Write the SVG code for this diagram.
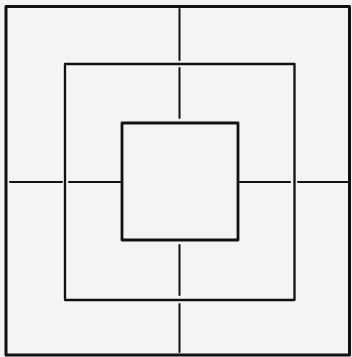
<svg xmlns="http://www.w3.org/2000/svg" width="352" height="357" viewBox="0 0 352 357">
<style>
.sq{fill:none;stroke:#111;stroke-linejoin:round}
.ln{stroke:#111;stroke-width:2;stroke-linecap:round}
</style>
<rect width="352" height="357" fill="#f4f4f4"/>
<g id="outer"><rect class="sq" x="6" y="6.5" width="343.5" height="348.5" stroke-width="3"/></g>
<g id="middle"><rect class="sq" x="65" y="64" width="229.5" height="236" stroke-width="2.3"/></g>
<g id="inner"><rect class="sq" x="122" y="123" width="116" height="117" stroke-width="2.8"/></g>
<g id="connectors">
<line class="ln" x1="179.5" y1="9" x2="179.5" y2="60"/>
<line class="ln" x1="179.5" y1="68" x2="179.5" y2="118"/>
<line class="ln" x1="179.5" y1="245" x2="179.5" y2="295"/>
<line class="ln" x1="179.5" y1="304" x2="179.5" y2="352"/>
<line class="ln" x1="10" y1="182" x2="62" y2="182"/>
<line class="ln" x1="69" y1="182" x2="121" y2="182"/>
<line class="ln" x1="239" y1="182" x2="290" y2="182"/>
<line class="ln" x1="298" y1="182" x2="348" y2="182"/>
</g>
</svg>
